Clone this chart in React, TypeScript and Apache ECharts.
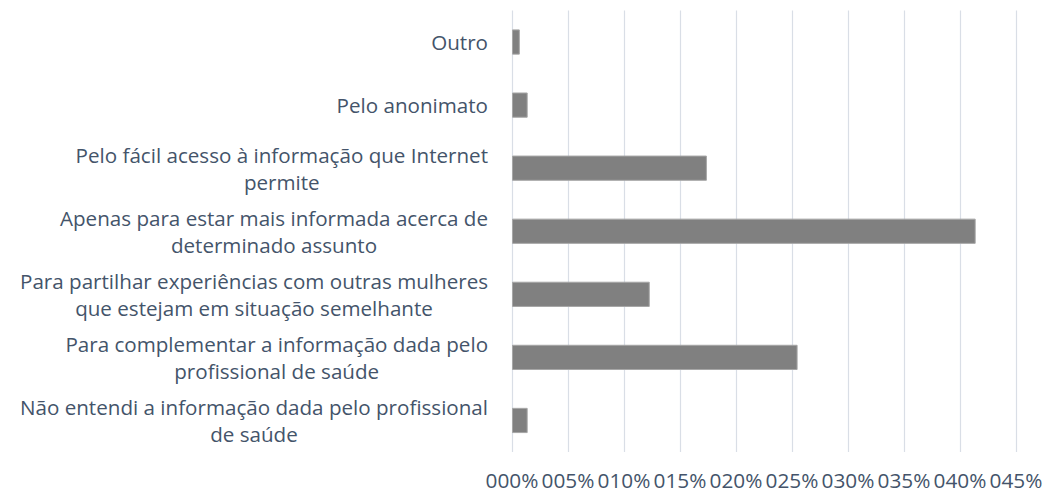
import React, { useEffect, useRef } from "react";
import * as echarts from "echarts";

const categories: string[] = [
  "Outro",
  "Pelo anonimato",
  "Pelo fácil acesso à informação que Internet\npermite",
  "Apenas para estar mais informada acerca de\ndeterminado assunto",
  "Para partilhar experiências com outras mulheres\nque estejam em situação semelhante",
  "Para complementar a informação dada pelo\nprofissional de saúde",
  "Não entendi a informação dada pelo profissional\nde saúde",
];

const values: number[] = [0.7, 1.4, 17.4, 41.4, 12.3, 25.5, 1.4];

const xTickLabels: string[] = [
  "000%", "005%", "010%", "015%", "020%", "025%", "030%", "035%", "040%", "045%",
];

const TEXT = "#44546A";
const FONT = "Open Sans";

export default function App() {
  const ref = useRef<HTMLDivElement>(null);
  useEffect(() => {
    document.body.style.margin = "0";
    if (!ref.current) return;
    const chart = echarts.init(ref.current, undefined, { renderer: "svg" });
    chart.setOption({
      animation: false,
      backgroundColor: "#ffffff",
      grid: { left: 512, right: 30, top: 10.5, bottom: 40, containLabel: false },
      xAxis: {
        type: "value",
        min: 0,
        max: 45,
        interval: 5,
        axisLine: { show: false },
        axisTick: { show: false },
        splitLine: { show: true, lineStyle: { color: "#D9DEE6", width: 1.2 } },
        axisLabel: {
          color: TEXT,
          fontFamily: FONT,
          fontSize: 20.8,
          margin: 17,
          formatter: (_v: number, idx: number) => xTickLabels[idx] ?? "",
        },
      },
      yAxis: {
        type: "category",
        data: categories,
        inverse: true,
        axisLine: { show: false },
        axisTick: { show: false },
        splitLine: { show: false },
        axisLabel: {
          color: TEXT,
          fontFamily: FONT,
          fontSize: 20.6,
          margin: 24,
          lineHeight: 27,
          formatter: (v: string) =>
            v
              .split("\n")
              .map((l) => `{c|${l}}`)
              .join("\n"),
          rich: {
            c: {
              align: "center",
              color: TEXT,
              fontFamily: FONT,
              fontSize: 20.6,
              lineHeight: 27,
            },
          },
        },
      },
      series: [
        {
          type: "bar",
          data: values,
          barCategoryGap: "60%",
          itemStyle: { color: "#808080", borderColor: "#A6A6A6", borderWidth: 1 },
        },
      ],
    });
    return () => chart.dispose();
  }, []);
  return <div ref={ref} style={{ width: 1046, height: 492 }} />;
}
